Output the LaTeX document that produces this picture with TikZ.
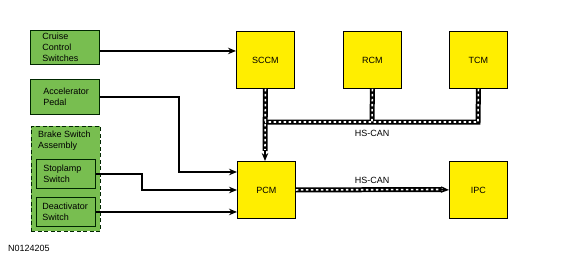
\documentclass[tikz,border=0pt]{standalone}
\usepackage{fontspec}
\setmainfont{Liberation Sans}
\usetikzlibrary{arrows.meta,calc}
\definecolor{boxgreen}{RGB}{120,190,80}
\definecolor{modyellow}{RGB}{255,238,0}
\begin{document}
\begin{tikzpicture}[x=1pt,y=-1pt,
  every node/.style={font=\fontsize{9}{11}\selectfont},
  gbox/.style={draw=black!85!green, line width=0.9pt, fill=boxgreen, align=left, inner ysep=0pt, anchor=north west},
  ybox/.style={draw=black, line width=0.9pt, fill=modyellow, minimum width=58pt, minimum height=57pt, inner sep=0pt, anchor=north west},
  wire/.style={line width=1.7pt, -{Stealth[length=8pt,width=6.5pt]}},
  busbase/.style={line width=5pt, black},
  busdash/.style={line width=1.6pt, white, dash pattern=on 2.5pt off 2.5pt}]
\useasboundingbox (0,0) rectangle (580,262);

% green input boxes
\node[gbox, inner xsep=12pt, text width=45pt, minimum height=34pt] (cruise) at (30,30) {Cruise\\Control\\Switches};
\node[gbox, inner xsep=13pt, text width=43pt, minimum height=35pt] (acc) at (30,79) {Accelerator\\Pedal};
\node[gbox, dashed, dash pattern=on 4pt off 2.5pt, minimum width=69pt, minimum height=105pt, inner sep=0pt] (bsa) at (31,126) {};
\node[anchor=north west, inner sep=0pt, align=left] (bsatext) at (38,131) {Brake Switch\\Assembly};
\node[gbox, inner xsep=7pt, text width=45pt, minimum height=29pt] (stop) at (36,159) {Stoplamp\\Switch};
\node[gbox, inner xsep=6pt, text width=47pt, minimum height=29pt] (deact) at (36,197) {Deactivator\\Switch};

% yellow modules
\node[ybox] (sccm) at (236,31) {SCCM};
\node[ybox] (rcm) at (343,31) {RCM};
\node[ybox] (tcm) at (449,31) {TCM};
\node[ybox] (pcm) at (237,161) {PCM};
\node[ybox] (ipc) at (449,161) {IPC};

% hardwired inputs
\coordinate (a1) at (179,172);
\coordinate (s1) at (142,190);
\draw[wire] ([yshift=-3.5pt]cruise.east) -- ([yshift=-3.5pt]cruise.east -| sccm.west);
\draw[wire] (acc.east) -| (a1) -- (a1 -| pcm.west);
\draw[wire] (stop.east) -| (s1) -- (s1 -| pcm.west);
\draw[wire] (deact.east) -- (deact.east -| pcm.west);

% HS-CAN upper bus
\coordinate (bs) at (265,122);
\coordinate (br) at (372,122);
\coordinate (bt) at (478,122);
\coordinate (bend) at (265,151);
\draw[busbase] (tcm.south) -- (bt) -- (bs);
\draw[busbase] (sccm.south) -- (bend);
\draw[busbase] (rcm.south) -- (br);
\draw[busdash] (tcm.south) -- (bt) -- (bs);
\draw[busdash] (sccm.south) -- (bend);
\draw[busdash] (rcm.south) -- (br);
\draw[wire] ([yshift=1pt]bend) -- (bend |- pcm.north);
\node (can1) at (372,133) {HS-CAN};

% HS-CAN lower bus
\coordinate (ie) at (442,189.5);
\draw[busbase] (pcm.east) -- (ie);
\draw[busdash] (pcm.east) -- (ie);
\draw[wire] ([xshift=-2pt]ie) -- (ipc.west);
\node (can2) at (372,180) {HS-CAN};

\node[anchor=west, inner sep=0pt] (fig) at (8,248) {N0124205};
\end{tikzpicture}
\end{document}
